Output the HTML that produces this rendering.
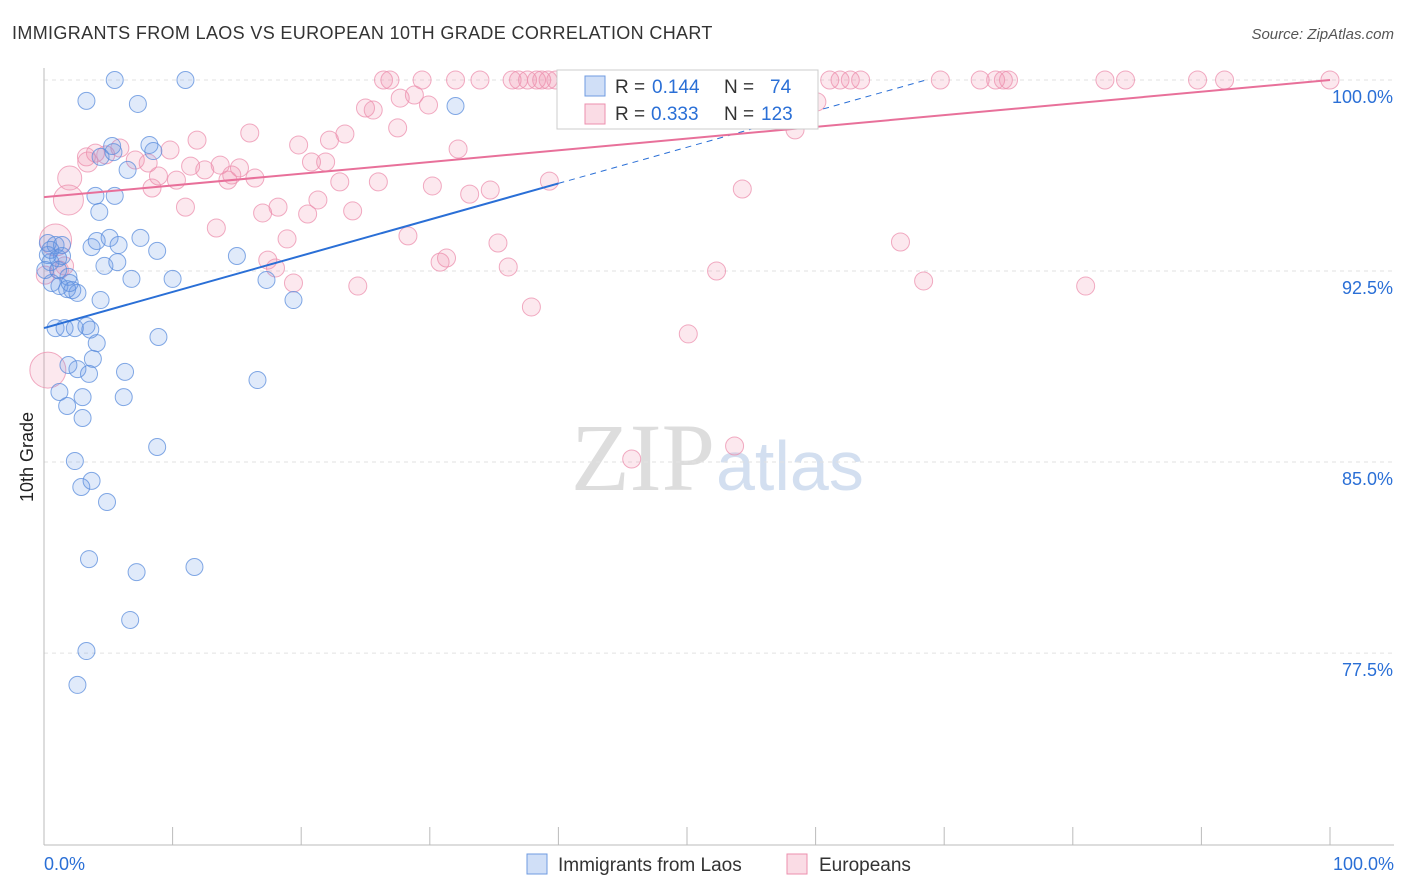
<!DOCTYPE html>
<html><head><meta charset="utf-8"><style>
body{margin:0;background:#fff;font-family:"Liberation Sans",sans-serif;}
#c{position:relative;width:1406px;height:892px;overflow:hidden;}
</style></head><body>
<div id="c">
<svg id="s" width="1406" height="892" xmlns="http://www.w3.org/2000/svg">
<text x="12" y="39" font-size="18" fill="#333" letter-spacing="0.35" font-family="Liberation Sans">IMMIGRANTS FROM LAOS VS EUROPEAN 10TH GRADE CORRELATION CHART</text>
<text x="1394" y="39" font-size="15" fill="#555" font-style="italic" text-anchor="end">Source: ZipAtlas.com</text>
<text x="33" y="457" font-size="18" fill="#222" text-anchor="middle" transform="rotate(-90 33 457)">10th Grade</text>
<text x="715" y="490" font-size="96" fill="#ddd" text-anchor="end" font-family="Liberation Serif">ZIP</text>
<text x="716" y="490" font-size="70" fill="#d3dff0">atlas</text>
<g id="grid"></g><g id="pts"></g><g id="lines"></g>
<g>
<rect x="557" y="70" width="261" height="59" fill="#fff" stroke="#ccc"/>
<rect x="585" y="76" width="20" height="20" fill="rgba(100,150,230,0.3)" stroke="#6f9be0"/>
<text y="93" font-size="19" fill="#333"><tspan x="615">R =</tspan><tspan x="652" fill="#2a6fd6">0.144</tspan><tspan x="724">N =</tspan><tspan x="770" fill="#2a6fd6">74</tspan></text>
<rect x="585" y="104" width="20" height="20" fill="rgba(240,140,170,0.3)" stroke="#ec8fae"/>
<text y="120" font-size="19" fill="#333"><tspan x="615">R =</tspan><tspan x="651" fill="#2a6fd6">0.333</tspan><tspan x="724">N =</tspan><tspan x="761" fill="#2a6fd6">123</tspan></text>
</g>
<text x="44" y="870" font-size="18" fill="#2a6fd6">0.0%</text>
<text x="1394" y="870" font-size="18" fill="#2a6fd6" text-anchor="end">100.0%</text>
<rect x="527" y="854" width="20" height="20" fill="rgba(100,150,230,0.3)" stroke="#6f9be0"/>
<text x="558" y="871" font-size="19" fill="#333">Immigrants from Laos</text>
<rect x="787" y="854" width="20" height="20" fill="rgba(240,140,170,0.3)" stroke="#ec8fae"/>
<text x="819" y="871" font-size="19" fill="#333">Europeans</text>
</svg>
</div>
<script>
const yTicks=[100,92.5,85,77.5];
const yTickLabels=["100.0%","92.5%","85.0%","77.5%"];
const xTicks=[0,10,20,30,40,50,60,70,80,90,100];
const blueX=[5.5,11.0,3.3,7.3,32.0,5.3,8.2,8.5,4.4,5.4,6.5,4.0,5.5,4.3,0.3,0.9,3.7,4.1,5.1,5.8,7.5,8.8,15.0,1.4,0.5,1.1,1.9,4.7,5.7,6.8,10.0,17.3,0.6,1.2,1.8,2.2,2.6,19.4,0.9,1.6,2.4,3.3,8.9,4.1,1.9,2.6,3.5,3.8,6.3,16.6,1.2,1.8,3.0,6.2,3.0,8.8,2.4,2.9,3.7,4.9,3.5,7.2,11.7,6.7,3.3,2.6,0.3,0.5,1.1,0.1,2.0,1.4,3.6,4.4];
const blueY=[100,100,99.18,99.06,98.98,97.41,97.45,97.21,96.98,97.17,96.47,95.45,95.45,94.82,93.6,93.52,93.44,93.68,93.8,93.52,93.8,93.29,93.09,93.09,92.85,92.54,92.27,92.7,92.85,92.19,92.19,92.15,92.03,91.91,91.79,91.75,91.64,91.36,90.26,90.26,90.26,90.34,89.91,89.67,88.81,88.65,88.46,89.05,88.54,88.22,87.75,87.2,87.55,87.55,86.73,85.59,85.04,84.02,84.26,83.43,81.19,80.68,80.88,78.8,77.58,76.25,93.13,93.33,93.0,92.54,92.03,93.52,90.2,91.36];
const pinkX=[26.4,26.9,29.4,32.0,33.9,36.4,36.9,37.6,38.3,38.7,39.2,39.8,41.4,41.8,43.0,44.2,44.8,46.7,47.3,51.0,51.6,52.7,53.9,55.3,57.4,61.1,61.9,62.7,63.5,69.7,72.8,74.0,74.6,75.0,82.5,84.1,89.7,91.8,100,
25.0,25.6,27.7,28.8,29.9,60.1,16.0,11.9,19.8,22.2,23.4,27.5,32.2,58.4,3.3,4.0,4.8,5.9,9.8,8.1,7.1,11.4,12.5,13.7,15.2,14.6,16.4,20.8,21.9,8.9,10.3,14.3,23.0,26.0,30.2,33.1,34.7,39.3,54.3,8.4,11.0,21.3,24.0,17.0,18.2,20.5,13.4,18.9,28.3,35.3,66.6,31.3,30.8,17.4,18.0,36.1,52.3,19.4,24.4,68.4,81.0,37.9,50.1,53.7,45.7,0.3,0.9,1.9,2.0,3.4,1.2,0.1,1.6];
const pinkY=[100,100,100,100,100,100,100,100,100,100,100,100,100,100,100,100,100,100,100,100,100,100,100,100,100,100,100,100,100,100,100,100,100,100,100,100,100,100,100,
98.9,98.82,99.29,99.41,99.02,99.14,97.92,97.64,97.45,97.64,97.88,98.12,97.29,98.04,96.98,97.13,97.06,97.33,97.25,96.74,96.86,96.62,96.47,96.66,96.55,96.27,96.15,96.78,96.78,96.23,96.07,96.07,96.0,96.0,95.84,95.52,95.68,96.03,95.72,95.76,95.01,95.29,94.86,94.78,95.01,94.74,94.19,93.76,93.88,93.6,93.64,93.01,92.85,92.93,92.62,92.66,92.5,92.03,91.91,92.11,91.91,91.09,90.03,85.63,85.12,88.61,93.72,95.29,96.15,96.78,92.54,92.34,92.7];
const pinkBig=[0.3,0.9,1.9,2.0,3.4];
const pinkBigR=[18,16,15,12,10];
const blueFit=[90.26,0.142];
const pinkFit=[95.4,0.046];
const NS="http://www.w3.org/2000/svg";
const X=v=>44+v*12.86, Y=v=>80+(100-v)*25.47;
function mk(t,a,p){const e=document.createElementNS(NS,t);for(const k in a)e.setAttribute(k,a[k]);document.getElementById(p).appendChild(e);return e;}
yTicks.forEach((t,i)=>{
 const l=mk('line',{x1:44,x2:1394,y1:Y(t),y2:Y(t),stroke:'#e2e2e2','stroke-dasharray':'4,4'},'grid');
 
 
 const tx=mk('text',{x:1393,y:Y(t)+23,'font-size':18,fill:'#2a6fd6','text-anchor':'end'},'grid');
 tx.textContent=yTickLabels[i];
 
 
});
const ax=mk('line',{x1:44,x2:44,y1:68,y2:845,stroke:'#bbb'},'grid');


const bx=mk('line',{x1:44,x2:1394,y1:845,y2:845,stroke:'#bbb'},'grid');


xTicks.forEach(t=>{
 const l=mk('line',{x1:X(t),x2:X(t),y1:827,y2:845,stroke:'#bbb'},'grid');
 
 
});
pinkX.forEach((x,i)=>{
 const bi=pinkBig.indexOf(x);
 const r=(bi>=0&&i>=pinkX.length-8)?pinkBigR[bi]:9;
 const c=mk('circle',{cx:X(x),cy:Y(pinkY[i]),r:r,fill:'rgba(240,140,170,0.2)',stroke:'rgba(236,143,174,0.75)','stroke-width':1},'pts');
 
 
});
blueX.forEach((x,i)=>{
 const c=mk('circle',{cx:X(x),cy:Y(blueY[i]),r:8.5,fill:'rgba(100,150,230,0.2)',stroke:'rgba(90,140,220,0.75)','stroke-width':1},'pts');
 
 
});
const bl=mk('line',{x1:X(0),y1:Y(blueFit[0]),x2:X(40),y2:Y(blueFit[0]+40*blueFit[1]),stroke:'#2a6fd6','stroke-width':2},'lines');


const xe=(100-blueFit[0])/blueFit[1];
const bd=mk('line',{x1:X(40),y1:Y(blueFit[0]+40*blueFit[1]),x2:X(xe),y2:Y(100),stroke:'#2a6fd6','stroke-width':1,'stroke-dasharray':'6,5'},'lines');


const pl=mk('line',{x1:X(0),y1:Y(pinkFit[0]),x2:X(100),y2:Y(pinkFit[0]+100*pinkFit[1]),stroke:'#e8709a','stroke-width':2},'lines');


</script>
</body></html>
